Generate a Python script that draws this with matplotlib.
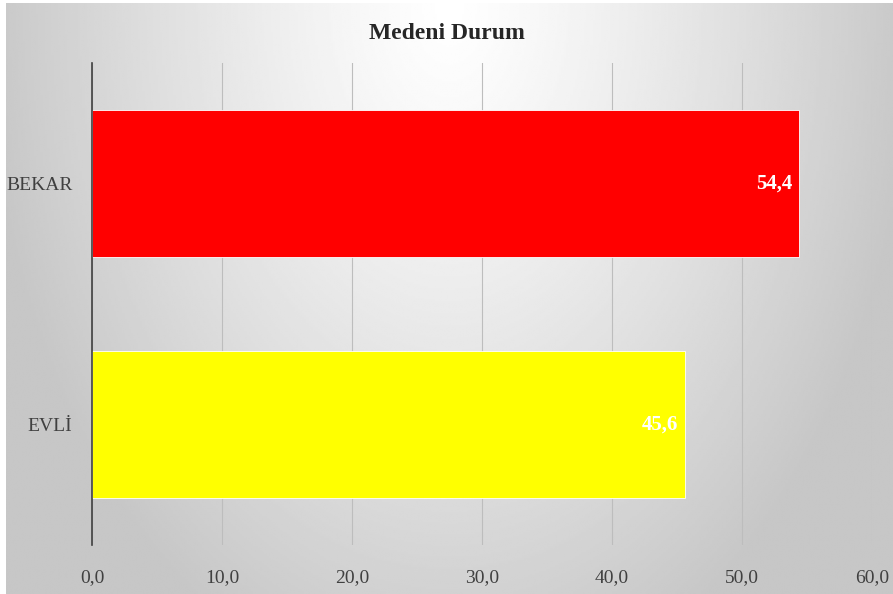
import numpy as np
import matplotlib.pyplot as plt

# veriler
kategoriler = ['EVLİ', 'BEKAR']
yuzdeler = [45.6, 54.4]
renkler = ['#ffff00', '#ff0000']
x_ticks = [0, 10, 20, 30, 40, 50, 60]

plt.rcParams['font.family'] = ['Liberation Serif', 'DejaVu Serif']

fig = plt.figure(figsize=(8.93, 5.94), dpi=100, facecolor='white')

# arka plan: radyal gri gradyan
bg = fig.add_axes([6 / 893, 0, 1 - 6 / 893, 591 / 594])
bg.set_axis_off()
xx, yy = np.meshgrid(np.linspace(-1, 1, 400), np.linspace(0, 1, 300))
r = np.sqrt((xx / 1.05) ** 2 + (yy / 1.2) ** 2)
r = np.clip(r, 0, 1)
val = 1.0 - 0.22 * r ** 1.2
bg.imshow(val, cmap='gray', vmin=0, vmax=1, aspect='auto', extent=[0, 1, 0, 1],
          origin='upper', interpolation='bilinear')

ax = fig.add_axes([92 / 893, 49 / 594, 780 / 893, 482 / 594])
ax.patch.set_alpha(0)
y = np.arange(len(kategoriler))
ax.barh(y, yuzdeler, height=0.606, color=renkler, edgecolor='white', linewidth=0.6, zorder=3)

for yi, v in zip(y, yuzdeler):
    ax.text(v - 0.5, yi, f'{v:.1f}'.replace('.', ','), ha='right', va='center',
            color='white', fontsize=15, fontweight='bold', zorder=4)

ax.set_xlim(0, 60)
ax.set_ylim(-0.5, 1.5)
ax.set_xticks(x_ticks)
ax.set_xticklabels([f'{t:.1f}'.replace('.', ',') for t in x_ticks], fontsize=14, color='#404040')
ax.set_yticks(y)
ax.set_yticklabels(kategoriler, fontsize=14, color='#404040')
ax.tick_params(axis='x', length=0, pad=17)
ax.tick_params(axis='y', length=0, pad=14)
ax.grid(axis='x', color='#bdbdbd', linewidth=0.8, zorder=0)
for s in ['top', 'right', 'bottom']:
    ax.spines[s].set_visible(False)
ax.spines['left'].set_color('#404040')
ax.spines['left'].set_linewidth(1.2)
ax.spines['left'].set_zorder(5)

fig.text(0.5, 0.944, 'Medeni Durum', ha='center', va='center', fontsize=17,
         fontweight='bold', color='#262626')

fig.savefig('out.png', dpi=100, facecolor='white')
